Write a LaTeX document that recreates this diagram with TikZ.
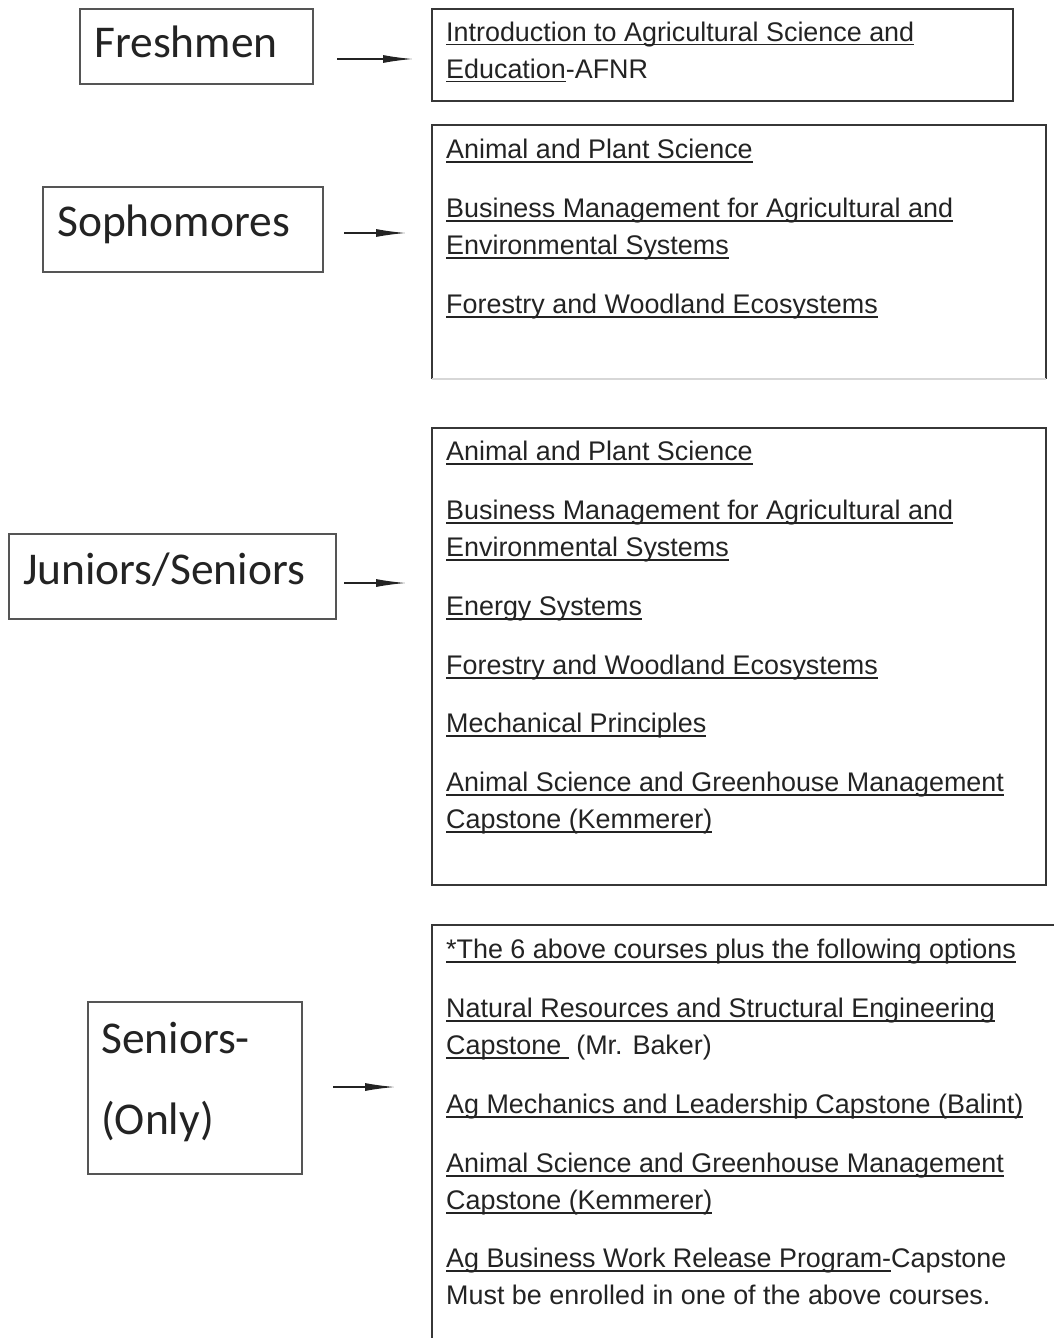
\documentclass[tikz,border=0pt]{standalone}
\usepackage{fontspec}
\usetikzlibrary{arrows.meta}
\newfontfamily\arialf{Liberation Sans}
\newfontfamily\calf{Carlito}
\definecolor{ink}{RGB}{35,35,35}
\definecolor{edge}{RGB}{55,55,55}
\definecolor{ledge}{RGB}{85,85,85}
\definecolor{faint}{RGB}{215,215,215}
\newsavebox\ulbox
\newcommand\ulx[1]{\sbox\ulbox{#1}\rlap{\rule[-4pt]{\wd\ulbox}{1.8pt}}\usebox\ulbox}
\tikzset{
  lbox/.style={draw=ledge, line width=1.3pt, inner sep=0pt, outer sep=0pt},
  cbox/.style={draw=edge, line width=1.4pt, inner sep=0pt, outer sep=0pt},
  cedge/.style={draw=edge, line width=1.4pt},
  ltext/.style={anchor=base west, inner sep=0pt, font=\calf\fontsize{45.5}{50}\selectfont, text=ink},
  ctext/.style={anchor=base west, inner sep=0pt, font=\arialf\fontsize{26.9}{30}\selectfont, text=ink},
  conn/.style={draw=ink, line width=1.4pt, -{Latex[length=30pt,width=8pt]}}
}
\begin{document}
\begin{tikzpicture}[x=1pt,y=-1pt]
\useasboundingbox[fill=white] (0,0) rectangle (1054,1338);

% left label boxes
\node[lbox, minimum width=233pt, minimum height=75pt] (fresh) at (196.5,46.5) {};
\node[lbox, minimum width=280pt, minimum height=85pt] (soph) at (183,229.5) {};
\node[lbox, minimum width=327pt, minimum height=85pt] (jun) at (172.5,576.5) {};
\node[lbox, minimum width=214pt, minimum height=172pt] (sen) at (195,1088) {};

\node[ltext] (freshT) at (94,58) {Freshmen};
\node[ltext] (sophT) at (57,236) {Sophomores};
\node[ltext] (junT) at (23,584) {Juniors/Seniors};
\node[ltext] (senT1) at (101,1053) {Seniors-};
\node[ltext] (senT2) at (101,1134) {(Only)};

% course boxes
\node[cbox, minimum width=581pt, minimum height=92pt] (c1) at (722.5,55) {};
\node[inner sep=0pt, outer sep=0pt, minimum width=614pt, minimum height=254pt] (c2) at (739,252) {};
\draw[cedge] (c2.south west) -- (c2.north west) -- (c2.north east) -- (c2.south east);
\draw[faint, line width=1.2pt] (c2.south west) -- (c2.south east);
\node[cbox, minimum width=614pt, minimum height=457pt] (c3) at (739,656.5) {};
\coordinate (c4corner) at (432,925);
\draw[cedge] (432,1338) -- (c4corner) -- (1054,925);

% connectors
\coordinate (a1s) at (337,59);  \coordinate (a1e) at (413,59);
\coordinate (a2s) at (344,233); \coordinate (a2e) at (406,233);
\coordinate (a3s) at (344,583); \coordinate (a3e) at (406,583);
\coordinate (a4s) at (333,1087); \coordinate (a4e) at (395,1087);
\draw[conn] (a1s) -- (a1e);
\draw[conn] (a2s) -- (a2e);
\draw[conn] (a3s) -- (a3e);
\draw[conn] (a4s) -- (a4e);

% box 1
\node[ctext] (t11) at (446,41.5) {\ulx{Introduction to Agricultural Science and}};
\node[ctext] (t12) at (446,78.5) {\ulx{Education}-AFNR};
% box 2
\node[ctext] (t21) at (446,158.5) {\ulx{Animal and Plant Science}};
\node[ctext] (t22) at (446,217.5) {\ulx{Business Management for Agricultural and}};
\node[ctext] (t23) at (446,254.5) {\ulx{Environmental Systems}};
\node[ctext] (t24) at (446,313.5) {\ulx{Forestry and Woodland Ecosystems}};
% box 3
\node[ctext] (t31) at (446,460.5) {\ulx{Animal and Plant Science}};
\node[ctext] (t32) at (446,519.5) {\ulx{Business Management for Agricultural and}};
\node[ctext] (t33) at (446,556.5) {\ulx{Environmental Systems}};
\node[ctext] (t34) at (446,615.5) {\ulx{Energy Systems}};
\node[ctext] (t35) at (446,674.5) {\ulx{Forestry and Woodland Ecosystems}};
\node[ctext] (t36) at (446,732.5) {\ulx{Mechanical Principles}};
\node[ctext] (t37) at (446,791.5) {\ulx{Animal Science and Greenhouse Management}};
\node[ctext] (t38) at (446,828.5) {\ulx{Capstone (Kemmerer)}};
% box 4
\node[ctext] (t41) at (446,958.5) {\ulx{*The 6 above courses plus the following options}};
\node[ctext] (t42) at (446,1017.5) {\ulx{Natural Resources and Structural Engineering}};
\node[ctext] (t43) at (446,1054.5) {\ulx{Capstone\ } (Mr. Baker)};
\node[ctext] (t44) at (446,1113.5) {\ulx{Ag Mechanics and Leadership Capstone (Balint)}};
\node[ctext] (t45) at (446,1172.5) {\ulx{Animal Science and Greenhouse Management}};
\node[ctext] (t46) at (446,1209.5) {\ulx{Capstone (Kemmerer)}};
\node[ctext] (t47) at (446,1267.5) {\ulx{Ag Business Work Release Program-}Capstone};
\node[ctext] (t48) at (446,1304.5) {Must be enrolled in one of the above courses.};
\end{tikzpicture}
\end{document}
